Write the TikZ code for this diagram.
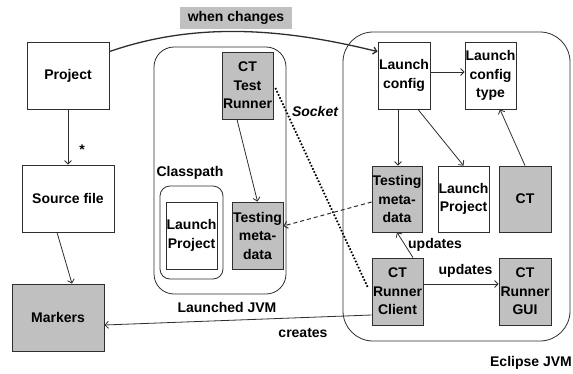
\documentclass[tikz,border=0pt]{standalone}
\usepackage{fontspec}
\setmainfont{Liberation Sans}
\usetikzlibrary{arrows.meta,calc}
\definecolor{lc}{HTML}{2E2E2E}
\definecolor{gfill}{HTML}{C0C0C0}
\begin{document}
\begin{tikzpicture}[x=1pt,y=-1pt,
  lbl/.style={font=\fontsize{14}{18.5}\selectfont\bfseries, inner sep=0pt, text=black},
  box/.style={lbl, draw=lc, line width=0.8pt, fill=white, align=center},
  gbox/.style={box, fill=gfill},
  cont/.style={draw=lc, line width=0.8pt},
  arr/.style={draw=lc, line width=0.8pt, -{Straight Barb[length=3.5pt,width=7pt]}},
]
\useasboundingbox[fill=white] (0,0) rectangle (573,373);

% containers
\node[cont, rounded corners=20pt, minimum width=132pt, minimum height=247pt] (ljvm) at (220,170.5) {};
\node[cont, rounded corners=10pt, minimum width=63pt, minimum height=93pt] (cp) at (191.5,232.5) {};
\node[cont, rounded corners=30pt, minimum width=227pt, minimum height=309pt] (ejvm) at (456.5,186.5) {};

% left column
\node[box, minimum width=82pt, minimum height=67pt] (proj) at (68,75.5) {Project};
\node[box, minimum width=92pt, minimum height=67pt] (src) at (68,198.5) {Source file};
\node[gbox, minimum width=92pt, minimum height=67pt] (mk) at (58,317.5) {Markers};

% launched JVM
\node[gbox, minimum width=51pt, minimum height=67pt] (ctr) at (247.5,85.5) {CT\\Test\\Runner};
\node[box, minimum width=51pt, minimum height=67pt] (lpL) at (191.5,235.5) {Launch\\Project};
\node[gbox, minimum width=51pt, minimum height=67pt] (tmL) at (257.5,235.5) {Testing\\meta-\\data};

% eclipse JVM
\node[box, minimum width=52pt, minimum height=67pt] (lc) at (404,75.5) {Launch\\config};
\node[box, minimum width=51pt, minimum height=67pt] (lt) at (490.5,75.5) {Launch\\config\\type};
\node[gbox, minimum width=50pt, minimum height=66pt] (tmR) at (397,199) {Testing\\meta-\\data};
\node[box, minimum width=51pt, minimum height=66pt] (lpR) at (463.5,199) {Launch\\Project};
\node[gbox, minimum width=52pt, minimum height=66pt] (ct) at (525,199) {CT};
\node[gbox, minimum width=51pt, minimum height=67pt] (crc) at (397.5,291.5) {CT\\Runner\\Client};
\node[gbox, minimum width=52pt, minimum height=67pt] (gui) at (525,291.5) {CT\\Runner\\GUI};

% labels
\node[lbl, fill=gfill, minimum width=112pt, minimum height=22pt] (wc) at (236,18) {when changes};
\node[lbl] (cpl) at (190,173) {Classpath};
\node[lbl] (ljl) at (227,307) {Launched JVM};
\node[lbl] (ejl) at (531,363) {Eclipse JVM};
\node[lbl] (star) at (82,150) {*};
\node[lbl] (up1) at (435,245) {updates};
\node[lbl] (up2) at (465.5,271) {updates};
\node[lbl] (cre) at (303,333) {creates};
\node[lbl, font=\fontsize{14}{18.5}\selectfont\bfseries\itshape] (sock) at (315,111) {Socket};

% connectors
\draw[arr, line width=1.3pt] ($(proj.north east)+(0,10)$) .. controls (200,20) and (290,30) .. ($(lc.north west)+(0,10)$);
\draw[arr] (proj.south) -- (src.north);
\draw[arr] ([xshift=-11pt]src.south) -- ([xshift=14pt]mk.north);
\draw[arr] ([xshift=-10.5pt]ctr.south) -- (tmL.north);
\draw[arr] ([yshift=3.5pt]lc.east) -- ([yshift=3.5pt]lt.west);
\draw[arr] ([xshift=-6pt]lc.south) -- ([xshift=1pt]tmR.north);
\draw[arr] ([xshift=14pt]lc.south) -- (lpR.north);
\draw[arr] (ct.north) -- ([xshift=9.5pt]lt.south);
\draw[arr] ([xshift=15.5pt]crc.north) -- (tmR.south);
\draw[arr] ([yshift=7.5pt]crc.east) -- ([yshift=7.5pt]gui.west);
\draw[arr, line width=1pt, dash pattern=on 4pt off 3pt] ([yshift=-3pt]tmR.west) -- ([yshift=9.5pt]tmL.east);
\draw[arr] ([yshift=-23.5pt]crc.west) -- ([yshift=-7.5pt]mk.east);
\draw[draw=black, line width=1.8pt, dash pattern=on 1.6pt off 1.8pt] ([shift={(2pt,-2.5pt)}]ctr.east) -- ([shift={(-4pt,4.5pt)}]crc.west);
\end{tikzpicture}
\end{document}
